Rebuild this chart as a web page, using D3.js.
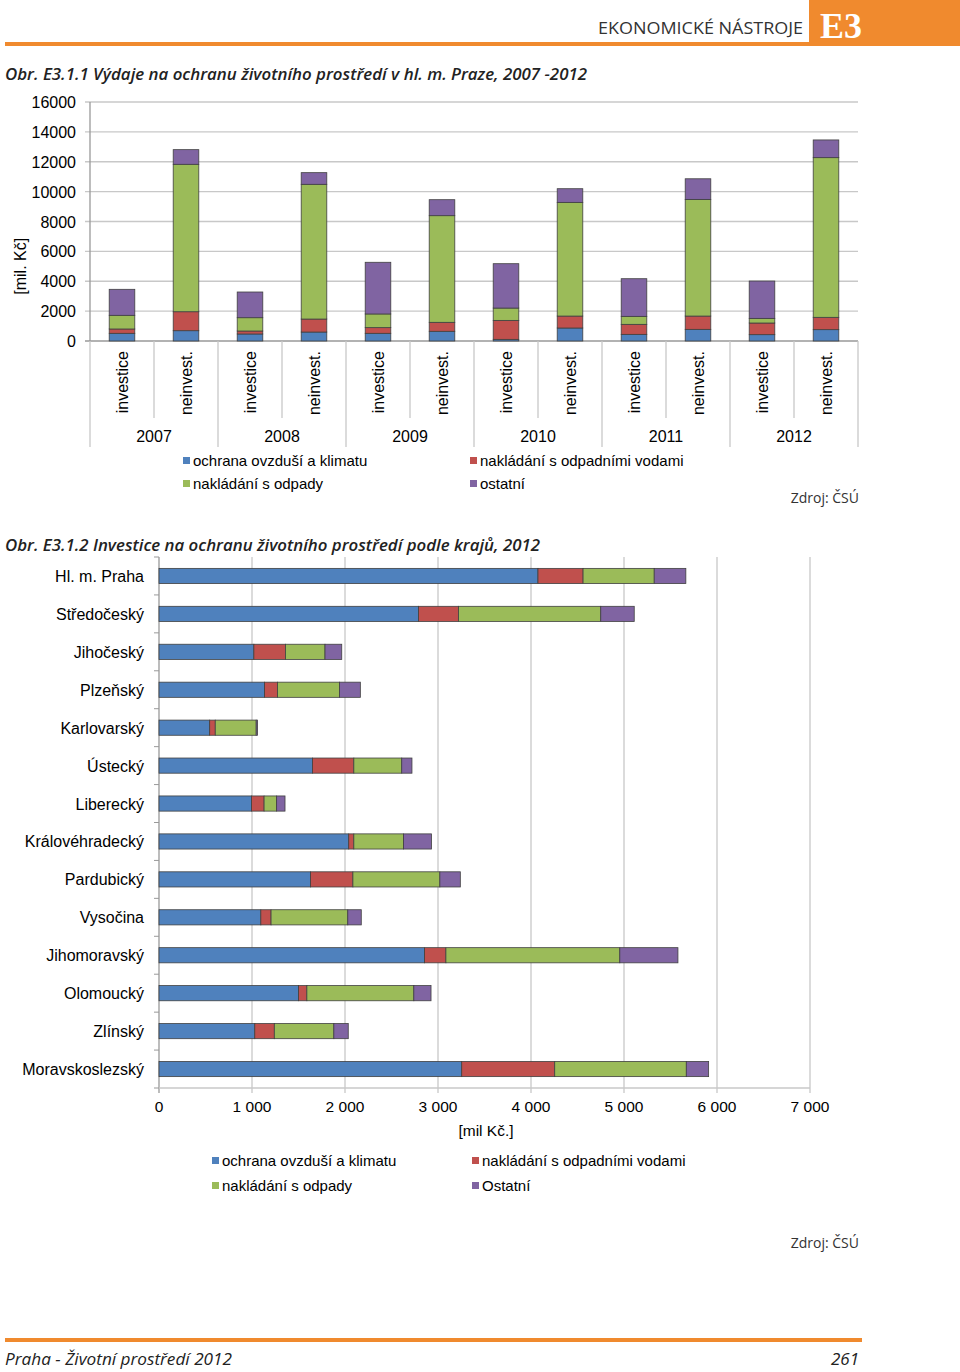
<!DOCTYPE html>
<html>
<head>
<meta charset="utf-8">
<script src="https://cdn.jsdelivr.net/npm/d3@7"></script>
<style>
  body { margin: 0; background: #fff; }
  text { font-family: "Liberation Sans", Arial, sans-serif; fill: #000; }
  .myriad { font-family: "Open Sans", "Noto Sans", sans-serif; }
</style>
</head>
<body>
<script>
//page size
var widthScr = 960;
var heightScr = 1372;
var orange = "#f08a2e";
var colors = ["#4f81bd", "#c0504d", "#9bbb59", "#8064a2"];

//chart 1 data (mil. Kč)
var cats1 = ["investice", "neinvest.", "investice", "neinvest.", "investice", "neinvest.",
             "investice", "neinvest.", "investice", "neinvest.", "investice", "neinvest."];
var years = ["2007", "2008", "2009", "2010", "2011", "2012"];
var ovzdusi1 = [515, 690, 470, 600, 515, 650, 110, 870, 445, 780, 425, 760];
var vody1 = [290, 1270, 200, 870, 380, 600, 1270, 800, 670, 890, 780, 825];
var odpady1 = [915, 9870, 890, 9020, 915, 7140, 825, 7610, 535, 7810, 310, 10690];
var ostatni1 = [1740, 980, 1720, 780, 3460, 1070, 2970, 915, 2520, 1380, 2500, 1185];
var yTicks1 = [0, 2000, 4000, 6000, 8000, 10000, 12000, 14000, 16000];
var legend1 = ["ochrana ovzduší a klimatu", "nakládání s odpadními vodami", "nakládání s odpady", "ostatní"];

//chart 2 data (mil Kč.)
var regions = ["Hl. m. Praha", "Středočeský", "Jihočeský", "Plzeňský", "Karlovarský", "Ústecký", "Liberecký",
               "Královéhradecký", "Pardubický", "Vysočina", "Jihomoravský", "Olomoucký", "Zlínský", "Moravskoslezský"];
var ovzdusi2 = [4075, 2790, 1020, 1135, 545, 1650, 995, 2040, 1630, 1095, 2855, 1500, 1030, 3255];
var vody2 = [485, 430, 340, 140, 60, 445, 135, 55, 455, 110, 230, 90, 210, 1000];
var odpady2 = [765, 1530, 425, 665, 440, 515, 135, 535, 935, 825, 1870, 1150, 640, 1415];
var ostatni2 = [340, 360, 180, 225, 15, 110, 90, 300, 220, 145, 625, 185, 155, 240];
var xTicks2 = [0, 1000, 2000, 3000, 4000, 5000, 6000, 7000];
var legend2 = ["ochrana ovzduší  a klimatu", "nakládání s odpadními vodami", "nakládání s odpady", "Ostatní"];

var svg = d3.select("body").append("svg")
    .attr("width", widthScr)
    .attr("height", heightScr);

//page header and footer
function drawPage() {
    svg.append("rect").attr("x", 5).attr("y", 42).attr("width", 955).attr("height", 4).attr("fill", orange);
    svg.append("rect").attr("x", 809).attr("y", 0).attr("width", 151).attr("height", 46).attr("fill", orange);
    svg.append("text").attr("x", 820).attr("y", 38)
        .style("font-family", "'Liberation Serif', 'DejaVu Serif', serif")
        .style("font-weight", "bold").style("font-size", "36px").style("fill", "#fff")
        .text("E3");
    svg.append("text").attr("class", "myriad").attr("x", 803).attr("y", 34)
        .attr("text-anchor", "end").attr("textLength", 205).attr("lengthAdjust", "spacingAndGlyphs")
        .style("font-size", "17px").style("fill", "#333")
        .text("EKONOMICKÉ NÁSTROJE");

    svg.append("text").attr("class", "myriad").attr("x", 5).attr("y", 80)
        .attr("textLength", 582).attr("lengthAdjust", "spacingAndGlyphs")
        .style("font-size", "16px").style("font-style", "italic").style("font-weight", 600).style("fill", "#222")
        .text("Obr. E3.1.1 Výdaje na ochranu životního prostředí v hl. m. Praze, 2007 -2012");
    svg.append("text").attr("class", "myriad").attr("x", 5).attr("y", 551)
        .attr("textLength", 535).attr("lengthAdjust", "spacingAndGlyphs")
        .style("font-size", "16px").style("font-style", "italic").style("font-weight", 600).style("fill", "#222")
        .text("Obr. E3.1.2 Investice na ochranu životního prostředí podle krajů, 2012");

    svg.append("rect").attr("x", 5).attr("y", 1338).attr("width", 857).attr("height", 4).attr("fill", orange);
    svg.append("text").attr("class", "myriad").attr("x", 5).attr("y", 1365)
        .attr("textLength", 227).attr("lengthAdjust", "spacingAndGlyphs")
        .style("font-size", "17px").style("font-style", "italic").style("fill", "#222")
        .text("Praha - Životní prostředí 2012");
    svg.append("text").attr("class", "myriad").attr("x", 859).attr("y", 1365)
        .attr("text-anchor", "end")
        .style("font-size", "17px").style("font-style", "italic").style("fill", "#222")
        .text("261");
}

//small legend with square markers
function drawLegend(labels, x1, x2, y1, y2) {
    var pos = [[x1, y1], [x2, y1], [x1, y2], [x2, y2]];
    labels.forEach(function(l, i) {
        svg.append("rect").attr("x", pos[i][0]).attr("y", pos[i][1] - 9)
            .attr("width", 7).attr("height", 7).attr("fill", colors[i]);
        svg.append("text").attr("x", pos[i][0] + 10).attr("y", pos[i][1])
            .style("font-size", "15px").text(l);
    });
}

//chart 1: stacked columns
function drawChart1() {
    var left = 90, right = 858, top = 102, bottom = 341;
    var idx = d3.range(cats1.length);
    var x = d3.scaleBand().domain(idx).range([left, right]).paddingInner(0.6).paddingOuter(0.3);
    var y = d3.scaleLinear().domain([0, 16000]).range([bottom, top]);

    //gridlines and y labels
    svg.append("g").selectAll("line").data(yTicks1).join("line")
        .attr("x1", left - 5).attr("x2", right)
        .attr("y1", d => y(d)).attr("y2", d => y(d))
        .attr("stroke", d => d === 0 ? "#999" : "#c8c8c8").attr("stroke-width", 1.3);
    svg.append("g").selectAll("text").data(yTicks1).join("text")
        .attr("x", 76).attr("y", d => y(d) + 6).attr("text-anchor", "end")
        .style("font-size", "16px").text(d => d);
    svg.append("line").attr("x1", left).attr("x2", left).attr("y1", top).attr("y2", bottom)
        .attr("stroke", "#999").attr("stroke-width", 1.3);
    svg.append("text").attr("transform", "translate(26," + (y(5000)) + ") rotate(-90)")
        .attr("text-anchor", "middle").style("font-size", "16px").text("[mil. Kč]");

    //bars
    var rows = idx.map(i => ({i: i, a: ovzdusi1[i], b: vody1[i], c: odpady1[i], d: ostatni1[i]}));
    var series = d3.stack().keys(["a", "b", "c", "d"])(rows);
    svg.append("g").selectAll("g").data(series).join("g")
        .attr("fill", (d, k) => colors[k])
        .selectAll("rect").data(d => d).join("rect")
        .attr("x", d => x(d.data.i)).attr("width", x.bandwidth())
        .attr("y", d => y(d[1])).attr("height", d => y(d[0]) - y(d[1]))
        .attr("stroke", "#404040").attr("stroke-width", 0.8);

    //category labels and separators
    var step = x.step();
    idx.forEach(function(i) {
        var sx = left + i * step;
        svg.append("line").attr("x1", sx).attr("x2", sx).attr("y1", bottom)
            .attr("y2", i % 2 === 0 ? 447 : 418).attr("stroke", "#c8c8c8").attr("stroke-width", 1.3);
        var cx = x(i) + x.bandwidth() / 2 + 6;
        svg.append("text").attr("transform", "translate(" + cx + ",351) rotate(-90)")
            .attr("text-anchor", "end").style("font-size", "16px").text(cats1[i]);
    });
    svg.append("line").attr("x1", right).attr("x2", right).attr("y1", bottom).attr("y2", 447)
        .attr("stroke", "#c8c8c8").attr("stroke-width", 1.3);
    years.forEach(function(yr, k) {
        svg.append("text").attr("x", left + (2 * k + 1) * step).attr("y", 442)
            .attr("text-anchor", "middle").style("font-size", "16px").text(yr);
    });

    drawLegend(legend1, 183, 470, 466, 489);
    svg.append("text").attr("class", "myriad").attr("x", 859).attr("y", 503).attr("text-anchor", "end")
        .style("font-size", "14px").style("fill", "#333").text("Zdroj: ČSÚ");
}

//chart 2: stacked horizontal bars
function drawChart2() {
    var left = 159, right = 810, top = 557, bottom = 1088;
    var x = d3.scaleLinear().domain([0, 7000]).range([left, right]);
    var y = d3.scaleBand().domain(regions).range([top, bottom]).paddingInner(0.6).paddingOuter(0.3);

    svg.append("g").selectAll("line").data(xTicks2).join("line")
        .attr("x1", d => x(d)).attr("x2", d => x(d))
        .attr("y1", top).attr("y2", bottom + 5)
        .attr("stroke", d => d === 0 ? "#999" : "#c8c8c8").attr("stroke-width", 1.3);
    svg.append("line").attr("x1", left).attr("x2", right).attr("y1", bottom).attr("y2", bottom)
        .attr("stroke", "#c8c8c8").attr("stroke-width", 1.3);
    svg.append("g").selectAll("line").data(d3.range(regions.length + 1)).join("line")
        .attr("x1", left - 5).attr("x2", left)
        .attr("y1", d => top + d * y.step()).attr("y2", d => top + d * y.step())
        .attr("stroke", "#999").attr("stroke-width", 1);

    svg.append("g").selectAll("text").data(xTicks2).join("text")
        .attr("x", d => x(d)).attr("y", 1112).attr("text-anchor", "middle")
        .style("font-size", "15.5px").text(d => d3.format(",")(d).replace(",", " "));
    svg.append("text").attr("x", 486).attr("y", 1136).attr("text-anchor", "middle")
        .style("font-size", "15.5px").text("[mil Kč.]");

    svg.append("g").selectAll("text").data(regions).join("text")
        .attr("x", 144).attr("y", d => y(d) + y.bandwidth() / 2 + 6).attr("text-anchor", "end")
        .style("font-size", "16px").text(d => d);

    var rows = regions.map((r, i) => ({r: r, a: ovzdusi2[i], b: vody2[i], c: odpady2[i], d: ostatni2[i]}));
    var series = d3.stack().keys(["a", "b", "c", "d"])(rows);
    svg.append("g").selectAll("g").data(series).join("g")
        .attr("fill", (d, k) => colors[k])
        .selectAll("rect").data(d => d).join("rect")
        .attr("y", d => y(d.data.r)).attr("height", y.bandwidth())
        .attr("x", d => x(d[0])).attr("width", d => x(d[1]) - x(d[0]))
        .attr("stroke", "#404040").attr("stroke-width", 0.8);

    drawLegend(legend2, 212, 472, 1166, 1191);
    svg.append("text").attr("class", "myriad").attr("x", 859).attr("y", 1248).attr("text-anchor", "end")
        .style("font-size", "14px").style("fill", "#333").text("Zdroj: ČSÚ");
}

drawPage();
drawChart1();
drawChart2();
</script>
</body>
</html>
